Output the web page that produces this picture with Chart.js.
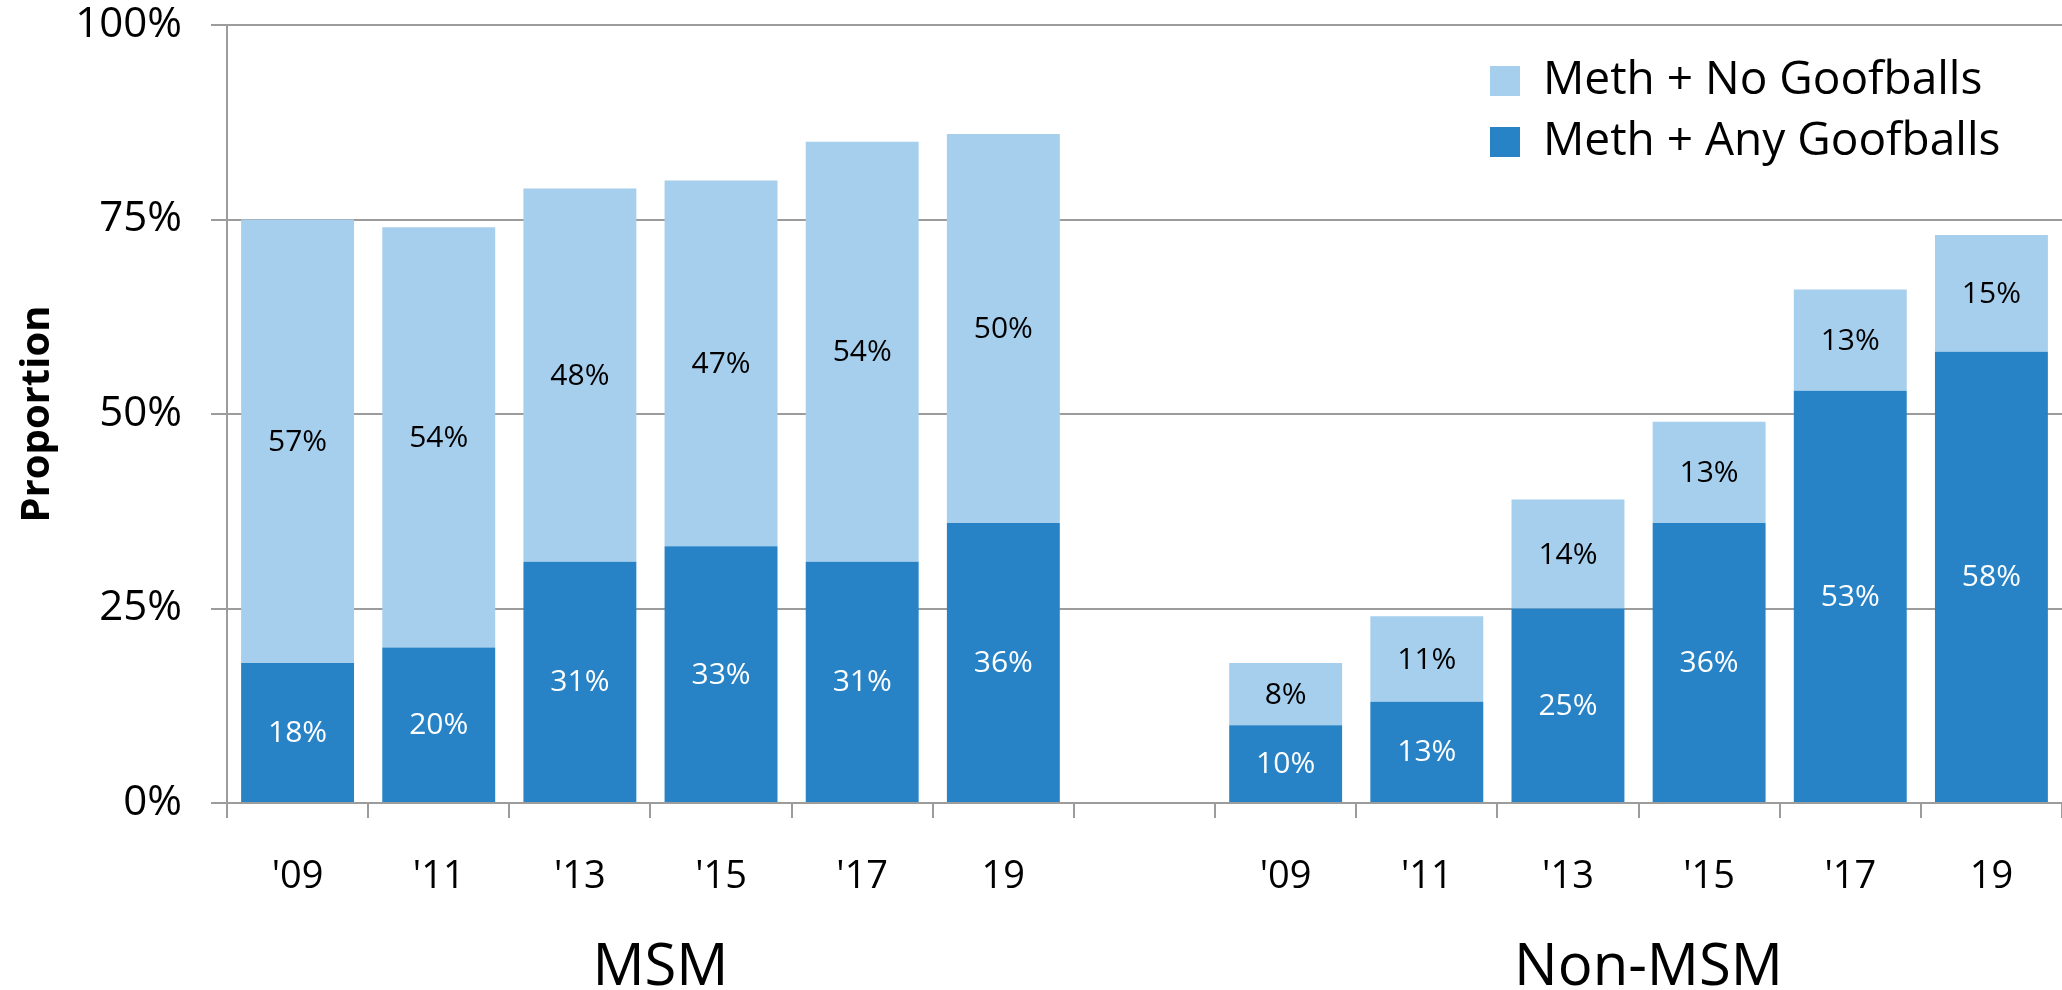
<!DOCTYPE html>
<html>
<head>
<meta charset="utf-8">
<title>Meth and goofball use by year, MSM vs non-MSM</title>
<script src="https://cdn.jsdelivr.net/npm/chart.js@4/dist/chart.umd.min.js"></script>
<style>
  html, body { margin: 0; padding: 0; background: #ffffff; }
  #wrap { width: 2062px; height: 990px; }
</style>
</head>
<body>
<div id="wrap"><canvas id="chart" width="2062" height="990"></canvas></div>
<script>
// Survey years shown for each group
const yearLabels = ["'09", "'11", "'13", "'15", "'17", "19"];
const groupNames = ["MSM", "Non-MSM"];

// Percent of respondents, by year
const msmAnyGoofballs = [18, 20, 31, 33, 31, 36];
const msmNoGoofballs = [57, 54, 48, 47, 54, 50];
const nonMsmAnyGoofballs = [10, 13, 25, 36, 53, 58];
const nonMsmNoGoofballs = [8, 11, 14, 13, 13, 15];

const yTicks = [0, 25, 50, 75, 100];

// Two groups of years separated by one empty slot
const categories = [...yearLabels, "", ...yearLabels];
const anySeries = [...msmAnyGoofballs, null, ...nonMsmAnyGoofballs];
const noneSeries = [...msmNoGoofballs, null, ...nonMsmNoGoofballs];

const FONT = "'Open Sans', 'Noto Sans', sans-serif";
const GRID = '#9c9c9c';
const LIGHT = '#A6CEED';
const DARK = '#2783C6';

// Percent labels centred in each bar segment
const segmentLabels = {
  id: 'segmentLabels',
  afterDatasetsDraw(chart) {
    const ctx = chart.ctx;
    ctx.save();
    ctx.font = '30px ' + FONT;
    ctx.textAlign = 'center';
    ctx.textBaseline = 'middle';
    chart.data.datasets.forEach((ds, di) => {
      const meta = chart.getDatasetMeta(di);
      meta.data.forEach((bar, i) => {
        const v = ds.data[i];
        if (v === null || v === undefined) return;
        const { x, y, base } = bar.getProps(['x', 'y', 'base'], true);
        ctx.fillStyle = ds.labelColor;
        ctx.fillText(v + '%', x, (y + base) / 2 + 1);
      });
    });
    ctx.restore();
  }
};

// Group names centred under each run of years
const groupLabels = {
  id: 'groupLabels',
  afterDraw(chart) {
    const xs = chart.scales.x;
    const ctx = chart.ctx;
    ctx.save();
    ctx.font = '58px ' + FONT;
    ctx.fillStyle = '#000';
    ctx.textAlign = 'center';
    ctx.textBaseline = 'middle';
    const n = yearLabels.length;
    const spans = [[0, n - 1], [n + 1, 2 * n]];
    spans.forEach((s, g) => {
      const cx = (xs.getPixelForValue(s[0]) + xs.getPixelForValue(s[1])) / 2;
      ctx.fillText(groupNames[g], cx + 10, 968);
    });
    ctx.restore();
  }
};

// Legend sits inside the plot, upper right
const legendPlacement = {
  id: 'legendPlacement',
  afterLayout(chart) {
    const lg = chart.legend;
    if (!lg) return;
    lg.left = 1475;
    lg.top = 43;
    lg.right = 2062;
    lg.bottom = 200;
    lg.width = lg.right - lg.left;
    lg.height = lg.bottom - lg.top;
  }
};

new Chart(document.getElementById('chart'), {
  type: 'bar',
  data: {
    labels: categories,
    datasets: [
      {
        label: 'Meth + Any Goofballs',
        data: anySeries,
        backgroundColor: DARK,
        borderWidth: 0,
        labelColor: '#ffffff'
      },
      {
        label: 'Meth + No Goofballs',
        data: noneSeries,
        backgroundColor: LIGHT,
        borderWidth: 0,
        labelColor: '#000000'
      }
    ]
  },
  options: {
    responsive: false,
    animation: false,
    devicePixelRatio: 1,
    layout: { padding: { top: 25, right: 0, bottom: 0, left: 0 } },
    datasets: { bar: { categoryPercentage: 0.8, barPercentage: 1.0 } },
    plugins: {
      tooltip: { enabled: false },
      legend: {
        position: 'chartArea',
        align: 'start',
        reverse: true,
        labels: {
          font: { family: FONT, size: 46 },
          color: '#000',
          boxWidth: 30,
          boxHeight: 30,
          padding: 15
        }
      }
    },
    scales: {
      x: {
        stacked: true,
        offset: true,
        grid: {
          offset: true,
          drawOnChartArea: false,
          drawTicks: true,
          tickLength: 15,
          color: GRID,
          lineWidth: 2
        },
        border: { display: false },
        ticks: {
          font: { family: FONT, size: 38 },
          color: '#000',
          padding: 36,
          maxRotation: 0,
          autoSkip: false
        },
        afterFit(scale) { scale.height = 187; }
      },
      y: {
        stacked: true,
        min: 0,
        max: 100,
        afterBuildTicks(scale) { scale.ticks = yTicks.map(v => ({ value: v })); },
        grid: {
          color: GRID,
          lineWidth: 2,
          drawTicks: true,
          tickLength: 16
        },
        border: { display: true, color: GRID, width: 2 },
        ticks: {
          font: { family: FONT, size: 42 },
          color: '#000',
          padding: 29,
          callback: v => v + '%'
        },
        title: {
          display: true,
          text: 'Proportion',
          color: '#000',
          font: { family: FONT, size: 40, weight: 'bold' },
          padding: { top: 14, bottom: 0 }
        },
        afterFit(scale) {
          scale.width = 227;
          scale.paddingTop = 0;
          scale.paddingBottom = 0;
        }
      }
    }
  },
  plugins: [segmentLabels, groupLabels, legendPlacement]
});
</script>
</body>
</html>
